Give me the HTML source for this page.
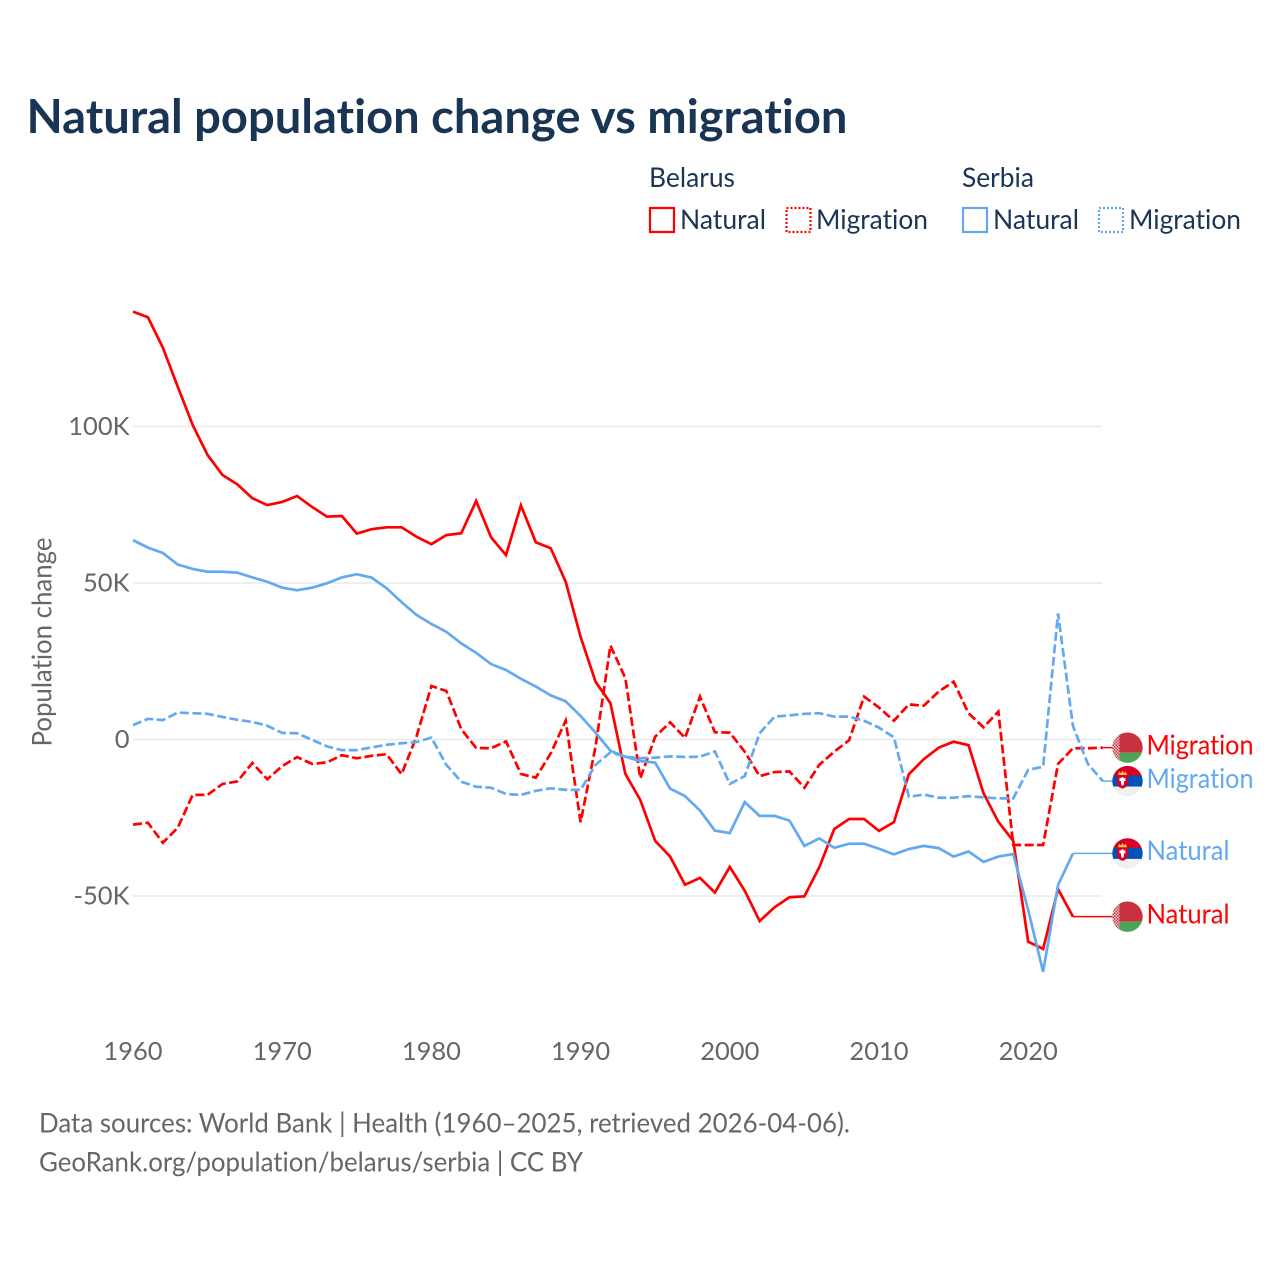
<!DOCTYPE html>
<html lang="en">
<head>
<meta charset="utf-8">
<title>Natural population change vs migration</title>
<style>
html,body{margin:0;padding:0;background:#fff;}
svg{display:block;font-family:"Lato","Carlito","Liberation Sans",sans-serif;font-variant-ligatures:none;font-feature-settings:"liga" 0,"clig" 0;}
.tick{font-size:25.5px;fill:#666;}
.legend{font-size:27.5px;fill:#1b3555;}
.foot{font-size:27px;fill:#666;}
.end{font-size:27px;}
</style>
</head>
<body>
<svg id="chart" xmlns="http://www.w3.org/2000/svg" width="1280" height="1280" viewBox="0 0 1280 1280">
  <defs>
    <clipPath id="flag-clip"><circle cx="0" cy="0" r="15.2"></circle></clipPath>
    <pattern id="ornament" width="3" height="3" patternUnits="userSpaceOnUse">
      <rect width="3" height="3" fill="#f0d6d8"></rect>
      <rect width="1.5" height="1.5" fill="#c8313e"></rect>
      <rect x="1.500" y="1.500" width="1.5" height="1.5" fill="#c8313e"></rect>
    </pattern>
    <g id="flag-belarus">
      <g clip-path="url(#flag-clip)">
        <rect x="-16" y="-16" width="32" height="21" fill="#c8323f"></rect>
        <rect x="-16" y="5" width="32" height="11" fill="#4ba559"></rect>
        <rect x="-16" y="-16" width="8" height="32" fill="url(#ornament)"></rect>
      </g>
    </g>
    <g id="flag-serbia">
      <g clip-path="url(#flag-clip)">
        <rect x="-16" y="-16" width="32" height="11" fill="#d80027"></rect>
        <rect x="-16" y="-5.5" width="32" height="11" fill="#0052b4"></rect>
        <rect x="-16" y="5.5" width="32" height="11" fill="#f0f0f0"></rect>
        <path d="M-9.500 -6 l1 -3.500 l2 1.500 l1.500 -2.500 l1.500 2.500 l2 -1.500 l1 3.500 z" fill="#ffc83d"></path>
        <path d="M-10.500 -6 h11 v7 q0 5 -5.500 6.500 q-5.500 -1.500 -5.500 -6.500 z" fill="#d80027"></path>
        <path d="M-8 -3 h2 v-1 h2 v1 h2 v3 h-1.500 v3 l-1.500 2 l-1.500 -2 v-3 h-1.500 z" fill="#fff"></path>
      </g>
    </g>
  </defs>

  <text x="26.5" y="133" font-size="47" font-weight="700" fill="#1a3454" textLength="821" lengthAdjust="spacingAndGlyphs">Natural population change vs migration</text>

  <g>
    <text class="legend" x="649" y="187" textLength="86" lengthAdjust="spacingAndGlyphs">Belarus</text>
    <text class="legend" x="962" y="187" textLength="72" lengthAdjust="spacingAndGlyphs">Serbia</text>
    <rect x="650" y="208" width="24" height="24" fill="none" stroke="#ff0000" stroke-width="2.2"></rect>
    <text class="legend" x="680" y="229" textLength="86" lengthAdjust="spacingAndGlyphs">Natural</text>
    <rect x="786.500" y="208" width="24" height="24" fill="none" stroke="#ff0000" stroke-width="2.2" stroke-dasharray="2 2"></rect>
    <text class="legend" x="816" y="229" textLength="112" lengthAdjust="spacingAndGlyphs">Migration</text>
    <rect x="963" y="208" width="24" height="24" fill="none" stroke="#63a9f0" stroke-width="2.2"></rect>
    <text class="legend" x="993" y="229" textLength="86" lengthAdjust="spacingAndGlyphs">Natural</text>
    <rect x="1099" y="208" width="24" height="24" fill="none" stroke="#63a9f0" stroke-width="2.2" stroke-dasharray="2 2"></rect>
    <text class="legend" x="1129" y="229" textLength="112" lengthAdjust="spacingAndGlyphs">Migration</text>
  </g>

  <g id="grid"></g>
  <g id="yticks"></g>
  <g id="xticks"></g>
  <text transform="translate(51.500 642) rotate(-90)" text-anchor="middle" font-size="27" fill="#666" textLength="209" lengthAdjust="spacingAndGlyphs">Population change</text>
  <g id="series"></g>
  <g id="endlabels"></g>

  <text class="foot" x="39" y="1132.500" textLength="811" lengthAdjust="spacingAndGlyphs">Data sources: World Bank | Health (1960–2025, retrieved 2026-04-06).</text>
  <text class="foot" x="39" y="1171.500" textLength="544" lengthAdjust="spacingAndGlyphs">GeoRank.org/population/belarus/serbia | CC BY</text>
</svg>
<script>
const startYear = 1960;
const belarusNatural = [136.7,134.9,125.2,112.7,100.5,90.9,84.5,81.5,77.1,74.9,75.9,77.8,74.3,71.2,71.4,65.8,67.2,67.8,67.8,64.8,62.4,65.3,65.9,76.2,64.6,58.9,74.8,63.0,61.1,50.4,32.8,18.5,11.6,-11.0,-19.3,-32.4,-37.4,-46.4,-44.2,-48.9,-40.7,-48.3,-58.0,-53.6,-50.4,-50.1,-40.8,-28.6,-25.4,-25.4,-29.2,-26.4,-11.1,-6.3,-2.6,-0.7,-1.8,-17.1,-26.3,-32.4,-64.6,-66.9,-47.8,-56.6];
const belarusMigration = [-27.2,-26.6,-33.0,-28.2,-17.7,-17.7,-14.2,-13.4,-7.5,-12.7,-8.5,-5.6,-7.8,-7.3,-5.0,-6.0,-5.2,-4.7,-11.1,0.9,17.1,15.5,3.3,-2.7,-2.8,-0.6,-11.0,-12.2,-4.4,6.0,-26.4,-2.3,30.0,19.6,-12.4,0.9,5.5,0.5,13.7,2.3,2.2,-3.9,-11.7,-10.4,-10.2,-15.4,-8.1,-3.9,-0.2,13.7,10.2,6.0,11.2,10.8,15.3,18.5,8.4,3.9,8.9,-33.7,-33.7,-33.7,-7.8,-2.8,-2.8,-2.6];
const serbiaNatural = [63.7,61.3,59.6,55.9,54.5,53.6,53.6,53.3,51.8,50.4,48.5,47.7,48.5,49.9,51.8,52.8,51.7,48.3,43.9,39.8,36.9,34.4,30.7,27.7,24.1,22.2,19.4,16.9,14.1,12.2,7.5,2.2,-3.6,-5.5,-6.9,-7.4,-15.7,-18.1,-22.7,-29.1,-29.9,-20.0,-24.4,-24.4,-25.9,-34.0,-31.6,-34.6,-33.3,-33.3,-34.9,-36.7,-35.0,-34.0,-34.7,-37.4,-35.8,-39.1,-37.4,-36.6,-54.5,-74.2,-46.5,-36.4];
const serbiaMigration = [4.6,6.6,6.2,8.6,8.4,8.2,7.2,6.3,5.6,4.4,2.1,2.0,-0.1,-2.2,-3.4,-3.4,-2.5,-1.7,-1.2,-0.8,0.6,-8.1,-13.5,-15.1,-15.4,-17.4,-17.7,-16.4,-15.6,-16.1,-16.1,-8.1,-4.1,-5.5,-6.0,-5.8,-5.4,-5.6,-5.5,-3.8,-14.2,-11.7,2.0,7.3,7.7,8.2,8.4,7.3,7.3,6.0,3.8,0.7,-18.3,-17.6,-18.6,-18.6,-18.1,-18.5,-18.8,-18.8,-9.7,-8.7,40.3,4.3,-7.8,-13.3];
const yTickValues = [100,50,0,-50];
const yTickLabels = ["100K","50K","0","-50K"];
const xTickYears = [1960,1970,1980,1990,2000,2010,2020];

const RED = "#ff0000";
const BLUE = "#63a9f0";
const NS = "http://www.w3.org/2000/svg";
function xScale(year){ return 133 + (year - 1960) * 14.92; }
function yScale(v){ return 739.5 - v * 3.13; }
function make(tag, attrs, parent){
  const el = document.createElementNS(NS, tag);
  for (const k in attrs) el.setAttribute(k, attrs[k]);
  parent.appendChild(el);
  return el;
}

const gridLayer = document.getElementById("grid");
const yLayer = document.getElementById("yticks");
const xLayer = document.getElementById("xticks");
const seriesLayer = document.getElementById("series");
const endLayer = document.getElementById("endlabels");

yTickValues.forEach(function(v, i){
  const line = make("line", {x1:133, x2:1102, y1:yScale(v), y2:yScale(v), stroke:"#e9e9e9", "stroke-width":1.4}, gridLayer);
  
  
  const t = make("text", {x:129.5, y:yScale(v)+8.5, "text-anchor":"end", class:"tick"}, yLayer);
  t.textContent = yTickLabels[i];
  
  
});

xTickYears.forEach(function(yr){
  const t = make("text", {x:xScale(yr), y:1060, "text-anchor":"middle", class:"tick"}, xLayer);
  t.textContent = String(yr);
  
  
});

function drawSeries(values, color, dashed){
  const pts = values.map(function(v, i){ return xScale(startYear + i).toFixed(2) + "," + yScale(v).toFixed(2); }).join(" ");
  const p = make("polyline", {points:pts, fill:"none", stroke:color, "stroke-width":2.7, "stroke-linejoin":"miter"}, seriesLayer);
  if (dashed) p.setAttribute("stroke-dasharray", "9 3.5");
  return p;
}
function drawEnd(values, color, flag, text){
  const last = values[values.length - 1];
  const xEnd = xScale(startYear + values.length - 1);
  const y = yScale(last);
  const c = make("line", {x1:xEnd, x2:1114, y1:y, y2:y, stroke:color, "stroke-width":1.5}, endLayer);
  
  
  const f = make("use", {href:"#flag-" + flag, transform:"translate(1127.5 " + y + ")"}, endLayer);
  
  
  const t = make("text", {x:1146.5, y:y + 6.8, fill:color, class:"end"}, endLayer);
  t.textContent = text;
  t.setAttribute("textLength", text === "Migration" ? 107 : 83);
  t.setAttribute("lengthAdjust", "spacingAndGlyphs");
  
  
}

const l1 = drawSeries(belarusNatural, RED, false);


const l2 = drawSeries(belarusMigration, RED, true);


const l3 = drawSeries(serbiaNatural, BLUE, false);


const l4 = drawSeries(serbiaMigration, BLUE, true);



drawEnd(belarusMigration, RED, "belarus", "Migration");
drawEnd(serbiaMigration, BLUE, "serbia", "Migration");
drawEnd(serbiaNatural, BLUE, "serbia", "Natural");
drawEnd(belarusNatural, RED, "belarus", "Natural");
</script>
</body>
</html>
